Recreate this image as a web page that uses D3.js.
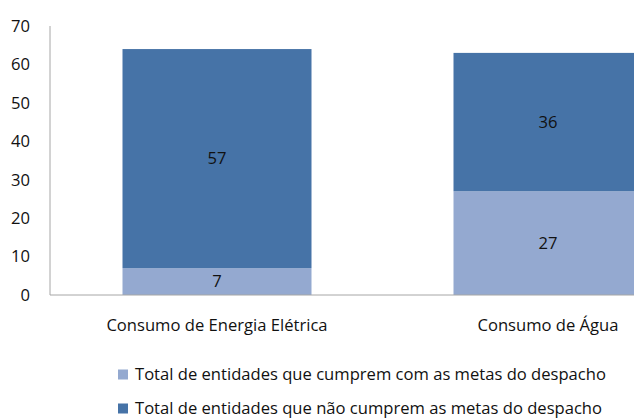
<!DOCTYPE html>
<meta charset="utf-8">
<script src="https://d3js.org/d3.v7.min.js"></script>
<style type="text/css">
body { margin: 0; background: #fff; }
text { font-family: "Open Sans", sans-serif; fill: #111; font-size: 16.6px; }
</style>
<body>
<script>

var categories = ["Consumo de Energia Elétrica", "Consumo de Água"];
var cumprem = [7, 27];
var naoCumprem = [57, 36];
var seriesNames = ["Total de entidades que cumprem com as metas do despacho",
                   "Total de entidades que não cumprem as metas do despacho"];
var yTicks = [0, 10, 20, 30, 40, 50, 60, 70];
var colors = ["#94a9d0", "#4673a7"];

var width = 634, height = 418;

var svg = d3.select("body").append("svg")
    .attr("width", width)
    .attr("height", height);

// plot runs past the right edge, like the cropped original
var xScale = d3.scaleBand().domain(categories).range([51.5, 713.5])
    .paddingInner(0.429).paddingOuter(0.2145);
var yScale = d3.scaleLinear().domain([0, 70]).range([295, 26]);

// y axis labels
svg.selectAll(".ytick").data(yTicks).enter().append("text")
    .attr("class", "ytick")
    .attr("x", 30)
    .attr("y", function(d) { return yScale(d); })
    .attr("dy", "0.35em")
    .style("text-anchor", "end")
    .text(function(d) { return d; });

// stacked bars
var rows = categories.map(function(c, i) { return {cat: c, a: cumprem[i], b: naoCumprem[i]}; });
var stack = d3.stack().keys(["a", "b"])(rows);

stack.forEach(function(layer, li) {
    svg.selectAll(".bar" + li).data(layer).enter().append("rect")
        .attr("class", "bar" + li)
        .attr("x", function(d) { return xScale(d.data.cat); })
        .attr("y", function(d) { return yScale(d[1]); })
        .attr("width", xScale.bandwidth())
        .attr("height", function(d) { return yScale(d[0]) - yScale(d[1]); })
        .style("fill", colors[li]);

    svg.selectAll(".lbl" + li).data(layer).enter().append("text")
        .attr("class", "lbl" + li)
        .attr("x", function(d) { return xScale(d.data.cat) + xScale.bandwidth() / 2; })
        .attr("y", function(d) { return (yScale(d[0]) + yScale(d[1])) / 2; })
        .attr("dy", "0.35em")
        .style("text-anchor", "middle")
        .text(function(d) { return d[1] - d[0]; });
});

// axes lines
svg.append("line").attr("x1", 50).attr("x2", 50).attr("y1", yScale(70)).attr("y2", yScale(0))
    .style("stroke", "#a6a6a6");
svg.append("line").attr("x1", 50).attr("x2", width).attr("y1", yScale(0)).attr("y2", yScale(0))
    .style("stroke", "#a6a6a6");

// category labels
svg.selectAll(".xlbl").data(categories).enter().append("text")
    .attr("class", "xlbl")
    .attr("x", function(d) { return xScale(d) + xScale.bandwidth() / 2; })
    .attr("y", 325)
    .attr("dy", "0.35em")
    .style("text-anchor", "middle")
    .text(function(d) { return d; });

// legend
var legend = svg.selectAll(".legend").data(seriesNames).enter().append("g")
    .attr("class", "legend")
    .attr("transform", function(d, i) { return "translate(118," + (374.5 + i * 34) + ")"; });
legend.append("rect").attr("x", 0).attr("y", -5).attr("width", 10).attr("height", 10)
    .style("fill", function(d, i) { return colors[i]; });
legend.append("text").attr("x", 17).attr("y", 5)
    .text(function(d) { return d; });

</script>
</body>
</html>
